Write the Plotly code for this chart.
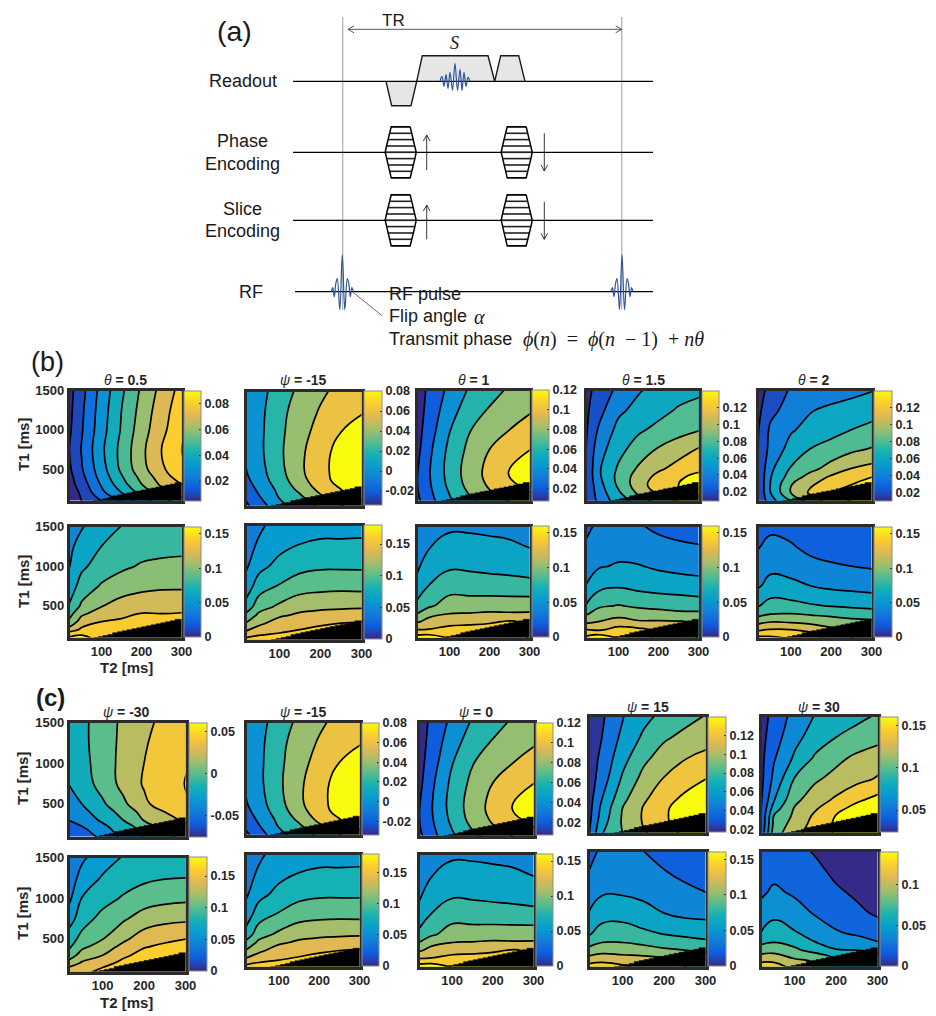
import numpy as np
import plotly.graph_objects as go
from plotly.colors import sample_colorscale

W, H = 936, 1016
PARULA = ["rgb(53,42,135)", "rgb(15,92,221)", "rgb(18,125,216)", "rgb(7,156,207)", "rgb(21,177,180)",
          "rgb(89,189,140)", "rgb(165,190,107)", "rgb(225,185,82)", "rgb(252,206,46)", "rgb(249,251,14)"]
PARULA_SCALE = [[k / 9, c] for k, c in enumerate(PARULA)]
TXT = "#262626"
FONT = "Liberation Sans"

# ---- sampling grid of the maps (edges sit just outside the axis ranges) ----
T2 = [17, 50, 100, 150, 200, 250, 303]
T1_TOP = [90, 200, 300, 400, 500, 750, 1000, 1250, 1510]
T1_BOT = [90, 150, 200, 300, 400, 500, 750, 1000, 1250, 1510]

# region T1 < T2 that is not mapped (black staircase)
BLACK_T2 = [80, 92, 92, 104, 104, 116, 116, 128, 128, 140, 140, 152, 152, 164, 164, 176, 176, 188, 188, 200, 200, 212, 212,
            224, 224, 236, 236, 248, 248, 260, 260, 272, 272, 284, 284, 303, 303, 80]
BLACK_T1 = [100, 100, 112, 112, 125, 125, 138, 138, 160, 160, 172, 172, 185, 185, 198, 198, 210, 210, 222, 222, 235, 235, 248,
            248, 260, 260, 272, 272, 285, 285, 298, 298, 310, 310, 329, 329, 90, 90]

# ---- map values, in units of the contour-level index
# top-row maps: one list per T1 (ascending), one value per T2
U_B1T = [[.3, 1, 2, 3, 4.5, 5.5, 6.5],
         [.4, 1.15, 2.75, 4, 5.35, 6.5, 7.5],
         [.5, 1.45, 3.1, 4.55, 5.95, 7.15, 8],
         [.6, 1.7, 3.4, 4.9, 6.3, 7.5, 8.55],
         [.75, 1.9, 3.6, 5.2, 6.65, 7.8, 8.9],
         [.9, 2.05, 3.8, 5.3, 6.75, 8, 9.05],
         [.75, 1.9, 3.6, 5.1, 6.55, 7.7, 8.9],
         [.65, 1.8, 3.5, 5, 6.35, 7.55, 8.65],
         [.6, 1.65, 3.35, 4.8, 6.15, 7.3, 8.4]]
U_B2T = [[.75, 1.5, 2.65, 3.45, 4.15, 4.9, 5.5],
         [1.1, 1.9, 3.05, 3.8, 4.8, 5.6, 6.3],
         [1.4, 2.2, 3.25, 4.25, 5.3, 6, 6.6],
         [1.7, 2.45, 3.5, 4.6, 5.6, 6.35, 7],
         [1.9, 2.6, 3.65, 4.8, 5.65, 6.45, 7.1],
         [2.05, 2.75, 3.8, 4.8, 5.6, 6.4, 6.9],
         [2.2, 2.75, 3.75, 4.65, 5.35, 6, 6.4],
         [2.25, 2.7, 3.7, 4.45, 5.1, 5.5, 5.95],
         [2.3, 2.6, 3.5, 4.2, 4.8, 5.3, 5.75]]
U_B3T = [[.7, 1.65, 2.85, 3.7, 4.4, 5, 5.6],
         [.85, 1.8, 3.05, 4.1, 4.9, 5.5, 6],
         [.9, 1.9, 3.25, 4.35, 5.15, 5.75, 6.4],
         [.9, 1.95, 3.35, 4.45, 5.3, 6, 6.6],
         [.85, 1.95, 3.4, 4.45, 5.3, 6, 6.6],
         [.65, 1.8, 3.25, 4.25, 5, 5.5, 6],
         [.55, 1.55, 2.95, 3.95, 4.5, 5, 5.5],
         [.5, 1.35, 2.6, 3.5, 4.1, 4.5, 4.9],
         [.5, 1.2, 2.25, 3.1, 3.55, 4.15, 4.7]]
U_B4T = [[.9, 2.25, 3.5, 4.4, 5.3, 6, 6.5],
         [.9, 2.45, 3.85, 5.2, 6.2, 6.9, 7.3],
         [.95, 2.6, 4.2, 5.55, 6.55, 7, 7.5],
         [1, 2.8, 4.3, 5.45, 6.3, 6.85, 7.3],
         [.95, 2.85, 4.15, 5.15, 5.85, 6.35, 6.8],
         [.9, 2.55, 3.7, 4.45, 5.1, 5.6, 6.1],
         [.8, 2.1, 3.3, 3.85, 4.25, 4.6, 4.95],
         [.75, 1.65, 2.8, 3.3, 3.7, 4.1, 4.25],
         [.7, 1.3, 2.25, 2.9, 3.3, 3.6, 3.85]]
U_B5T = [[.9, 2.6, 3.95, 5.4, 6.4, 7, 7.3],
         [.95, 3, 5, 6.2, 6.9, 7.3, 7.6],
         [.95, 3.05, 4.95, 5.9, 6.5, 7, 7.4],
         [.95, 2.95, 4.45, 5.4, 6.15, 6.6, 7],
         [.95, 2.8, 4.1, 4.75, 5.4, 6.05, 6.35],
         [.9, 2.35, 3.35, 4.05, 4.4, 4.8, 5.1],
         [.85, 2.2, 2.9, 3.3, 3.65, 4, 4.3],
         [.7, 1.7, 2.45, 2.95, 3.2, 3.4, 3.6],
         [.5, 1.35, 2.1, 2.3, 2.5, 2.7, 2.95]]
U_C1T = [[.2, .5, 1.2, 2.3, 3, 3.7, 4.3],
         [.6, .85, 1.7, 2.5, 3.3, 4.2, 4.8],
         [1, 1.45, 2.15, 3, 4.05, 4.6, 5.2],
         [1.2, 1.7, 2.5, 3.35, 4.35, 5, 5.7],
         [1.4, 2, 2.85, 3.8, 4.8, 5.5, 5.95],
         [2, 2.5, 3.4, 4.3, 5.1, 5.6, 6.05],
         [2.3, 2.65, 3.5, 4.3, 5, 5.5, 5.95],
         [2.3, 2.75, 3.5, 4.25, 4.9, 5.4, 5.85],
         [2.3, 2.75, 3.5, 4.2, 4.75, 5.25, 5.7]]
U_C4T = [[.8, 2.95, 4, 4.85, 5.6, 6.15, 6.7],
         [.7, 2.65, 4.1, 5.05, 5.8, 6.5, 7.1],
         [.6, 2.4, 4.1, 5.1, 5.85, 6.55, 7.2],
         [.55, 2.25, 4, 5.05, 5.8, 6.55, 7.15],
         [.5, 2, 3.75, 4.85, 5.6, 6.25, 6.8],
         [.4, 1.5, 3.15, 4.3, 5.05, 5.5, 6],
         [.35, 1.25, 2.65, 3.75, 4.45, 4.95, 5.3],
         [.3, 1, 2.25, 3.15, 3.85, 4.25, 4.55],
         [.25, .85, 1.95, 2.7, 3.25, 3.65, 4.05]]
U_C5T = [[1, 4.55, 5.7, 6.5, 7.1, 7.5, 7.8],
         [.9, 4.25, 5.45, 6.35, 7.15, 7.6, 7.9],
         [.85, 4.05, 5.2, 6.2, 7.05, 7.5, 7.85],
         [.8, 3.45, 5.05, 5.85, 6.65, 7.3, 7.7],
         [.75, 2.9, 4.75, 5.5, 6.15, 6.8, 7.3],
         [.65, 2.25, 4.05, 4.85, 5.3, 5.7, 6.1],
         [.65, 1.9, 3.15, 4.15, 4.75, 5.2, 5.6],
         [.6, 1.55, 2.7, 3.45, 4, 4.35, 4.65],
         [.55, 1.3, 2.35, 3.05, 3.35, 3.75, 4.1]]

# bottom-row maps: one list per T2, one value per T1 (ascending)
U_B1B = [[6.15, 5.5, 4.3, 3.1, 2.55, 2, 1.35, .9, .75, .6],
         [6.1, 5.95, 5.2, 4.45, 3.8, 3.15, 2.4, 1.8, 1.35, .9],
         [5.9, 5.95, 5.7, 5, 4.5, 3.95, 3.1, 2.45, 2, 1.5],
         [5.5, 5.5, 5.5, 5.15, 4.75, 4.35, 3.55, 2.8, 2.45, 2],
         [5.5, 5.5, 5.5, 5.3, 5.05, 4.55, 3.75, 3.1, 2.6, 2.2],
         [5.5, 5.5, 5.5, 5.35, 5, 4.6, 3.85, 3.2, 2.7, 2.35],
         [5.5, 5.5, 5.5, 5.4, 5.05, 4.65, 3.85, 3.25, 2.75, 2.4]]
U_B2B = [[6.3, 5.7, 5, 4, 3.2, 2.3, 1.4, .8, .6, .4],
         [6.3, 6, 5.45, 4.8, 4.2, 3.6, 2.5, 1.7, 1.15, .8],
         [6.2, 6.15, 5.9, 5.4, 4.85, 4.2, 3.1, 2.3, 1.75, 1.4],
         [6.15, 6.1, 6.1, 5.65, 5.15, 4.7, 3.55, 2.7, 2.05, 1.6],
         [6.2, 6.2, 6.2, 5.9, 5.3, 4.8, 3.7, 2.85, 2.15, 1.7],
         [6.2, 6.2, 6.2, 6, 5.4, 4.85, 3.75, 2.85, 2.15, 1.7],
         [6.2, 6.2, 6.2, 6.1, 5.45, 4.9, 3.7, 2.85, 2.15, 1.75]]
U_B3B = [[6.5, 5.7, 5, 3.85, 2.95, 2.25, 1.2, .8, .6, .5],
         [6.3, 5.9, 5.05, 4.3, 3.75, 2.85, 2.05, 1.5, .95, .7],
         [6, 5.8, 5.35, 4.6, 4, 3.45, 2.6, 1.85, 1.4, .8],
         [5.5, 5.5, 5.35, 4.75, 4.05, 3.45, 2.55, 1.8, 1.35, .8],
         [5.5, 5.5, 5.5, 4.85, 4.15, 3.5, 2.5, 1.7, 1.25, .75],
         [5.5, 5.5, 5.5, 5.1, 4.1, 3.55, 2.4, 1.65, 1.15, .7],
         [4.9, 4.9, 4.9, 4.8, 4.1, 3.6, 2.3, 1.55, .95, .6]]
U_B4B = [[7.2, 6.7, 6.05, 4.7, 3.85, 3, 2, 1.55, 1.12, .7],
         [7.3, 6.9, 5.8, 5, 4.4, 3.85, 2.7, 1.9, 1.45, 1.2],
         [7, 6.8, 6.35, 5.4, 4.6, 4.05, 2.9, 2.1, 1.6, 1.3],
         [6.4, 6.4, 6.2, 5.1, 4.4, 3.85, 2.7, 2.05, 1.5, 1.1],
         [5.8, 5.8, 5.8, 5.1, 4.3, 3.75, 2.55, 1.85, 1.33, .75],
         [5.6, 5.6, 5.6, 5.05, 4.2, 3.6, 2.5, 1.7, 1.15, .6],
         [4.9, 4.9, 4.9, 4.9, 4.2, 3.5, 2.4, 1.6, 1.05, .5]]
U_B5B = [[7.3, 6.5, 5.75, 4.6, 3.6, 2.9, 1.85, 1.35, .9, .65],
         [7.2, 6.7, 6.05, 4.95, 3.95, 3.4, 2.35, 1.75, 1.3, .75],
         [6.95, 6.6, 6, 4.85, 4, 3.3, 2.25, 1.6, 1.1, .6],
         [6.3, 6.2, 5.65, 4.7, 3.85, 3.1, 2, 1.3, .7, .35],
         [5.7, 5.7, 5.2, 4.5, 3.7, 2.95, 1.8, 1.1, .6, .3],
         [5, 5, 5, 4.3, 3.5, 2.85, 1.7, 1, .55, .25],
         [4.6, 4.6, 4.6, 4.2, 3.4, 2.75, 1.6, .9, .45, .2]]
U_C1B = [[6, 5, 4.4, 3.35, 2.8, 2.5, 1.45, .7, .4, .2],
         [5.75, 5.4, 5.15, 4.45, 3.8, 3.3, 2.58, 2.03, 1.35, .8],
         [6.3, 6, 5.65, 5, 4.5, 3.97, 3.3, 2.65, 2.1, 1.5],
         [6.5, 6.5, 6.3, 5.8, 5.3, 4.8, 3.85, 3.1, 2.55, 2.05],
         [6.5, 6.5, 6.5, 6.35, 5.95, 5.5, 4.45, 3.5, 2.8, 2.3],
         [6.6, 6.6, 6.6, 6.6, 6.2, 5.8, 4.7, 3.7, 2.95, 2.45],
         [6.6, 6.6, 6.6, 6.6, 6.4, 6, 4.8, 3.8, 3, 2.5]]
U_C4B = [[6.4, 5.85, 5.25, 4.3, 3.45, 2.85, 2, 1.5, 1, .6],
         [6.4, 6, 5.5, 4.6, 3.95, 3.45, 2.55, 1.9, 1.5, 1.2],
         [6.2, 5.8, 5.3, 4.6, 3.95, 3.5, 2.6, 1.9, 1.45, 1.1],
         [5.7, 5.7, 5.25, 4.4, 3.75, 3.2, 2.35, 1.75, 1.4, 1],
         [5.3, 5.3, 5.1, 4.15, 3.5, 2.95, 2, 1.55, 1.05, .65],
         [5, 5, 5, 4, 3.3, 2.8, 1.75, 1.25, .75, .45],
         [4.5, 4.5, 4.5, 3.7, 3.15, 2.65, 1.7, 1, .65, .3]]
U_C5B = [[6.5, 6, 5.5, 4.5, 3.7, 3, 2.4, 1.8, 1.45, 1.2],
         [6.5, 6, 5.5, 4.65, 3.95, 3.5, 2.75, 2.2, 1.7, 1.35],
         [5.7, 5.5, 4.95, 4.2, 3.65, 3.1, 2.45, 1.85, 1.55, 1.25],
         [4.9, 4.9, 4.75, 3.6, 3, 2.65, 1.9, 1.55, 1.25, .9],
         [3.9, 3.9, 3.9, 3.05, 2.6, 2.1, 1.6, 1.15, .8, .5],
         [3.6, 3.6, 3.6, 3, 2.35, 1.9, 1.2, .85, .5, .3],
         [3.3, 3.3, 3.3, 2.8, 2, 1.6, .85, .5, .3, .1]]

# colour-bar ticks
TICKS_B1T = [.02, .04, .06, .08]
TICKS_PSI = [-.02, 0, .02, .04, .06, .08]
TICKS_THETA = [.02, .04, .06, .08, .1, .12]
TICKS_BOT = [0, .05, .1, .15]
TICKS_C1T = [-.05, 0, .05]
TICKS_C5T = [.05, .1, .15]
TICKS_C5B = [0, .05, .1]

# ---- panels: title, frame (x0,x1,y0,y1 px), colour bar (x0,x1,y0,y1 px), values, first level, level step,
#              number of levels, colour range, ticks, axis flags, title centre
PANELS = [
 ("<i>θ</i><b> = 0.5</b>", (69.5,181.5,390.5,500.5), (184,201,391,501), U_B1T, .01, .01, 9, .0045, .09, TICKS_B1T, 1, 0, (125,380)),
 ("<i>ψ</i><b> = -15</b>", (246.5,361.5,391.5,505.5), (364,382,391,505), U_B2T, -.02, .02, 6, -.034, .08, TICKS_PSI, 0, 0, (303,380)),
 ("<i>θ</i><b> = 1</b>", (417.5,529.5,390.5,500.5), (532,549,390,501), U_B3T, .02, .02, 6, .0075, .12, TICKS_THETA, 0, 0, (474,380)),
 ("<i>θ</i><b> = 1.5</b>", (586.5,698.5,390.5,500.5), (702,719,391,501), U_B4T, .02, .02, 7, .009, .14, TICKS_THETA, 0, 0, (643,380)),
 ("<i>θ</i><b> = 2</b>", (758.5,871.5,390.5,500.5), (874,892,391,501), U_B5T, .02, .02, 7, .01, .14, TICKS_THETA, 0, 0, (814,380)),
 ("", (69.5,181.5,526.5,637.5), (184,201,527,637), U_B1B, .06, .02, 6, 0, .16, TICKS_BOT, 1, 1, None),
 ("", (246.5,361.5,525.5,639.5), (364,382,525,639), U_B2B, .06, .02, 6, 0, .18, TICKS_BOT, 0, 1, None),
 ("", (417.5,529.5,526.5,637.5), (532,549,526,637), U_B3B, .06, .02, 6, 0, .16, TICKS_BOT, 0, 1, None),
 ("", (586.5,698.5,526.5,637.5), (702,719,526,637), U_B4B, .04, .02, 7, 0, .16, TICKS_BOT, 0, 1, None),
 ("", (758.5,871.5,526.5,637.5), (874,892,527,637), U_B5B, .04, .02, 7, 0, .16, TICKS_BOT, 0, 1, None),
 ("<i>ψ</i><b> = -30</b>", (69.5,185.5,722.5,836.5), (189,207,723,837), U_C1T, -.04, .02, 6, -.076, .06, TICKS_C1T, 1, 0, (127,712)),
 ("<i>ψ</i><b> = -15</b>", (246.5,359.5,722.5,834.5), (362,379,723,835), U_B2T, -.02, .02, 6, -.034, .08, TICKS_PSI, 0, 0, (303,712)),
 ("<i>ψ</i><b> = 0</b>", (419.5,533.5,722.5,835.5), (536,553,723,835), U_B3T, .02, .02, 6, .0075, .12, TICKS_THETA, 0, 0, (476,712)),
 ("<i>ψ</i><b> = 15</b>", (589.5,705.5,716.5,832.5), (708,726,717,832), U_C4T, .04, .02, 6, .017, .14, TICKS_THETA, 0, 0, (648,707)),
 ("<i>ψ</i><b> = 30</b>", (761.5,877.5,716.5,832.5), (880,898,717,832), U_C5T, .04, .02, 7, .024, .16, TICKS_C5T, 0, 0, (819,707)),
 ("", (69.5,185.5,857.5,971.5), (189,207,857,971), U_C1B, .06, .02, 6, 0, .18, TICKS_BOT, 1, 1, None),
 ("", (246.5,359.5,854.5,966.5), (362,379,854,966), U_B2B, .06, .02, 6, 0, .18, TICKS_BOT, 0, 1, None),
 ("", (419.5,533.5,854.5,966.5), (536,553,854,966), U_B3B, .06, .02, 6, 0, .16, TICKS_BOT, 0, 1, None),
 ("", (589.5,705.5,851.5,966.5), (708,726,852,966), U_C4B, .04, .02, 6, 0, .16, TICKS_BOT, 0, 1, None),
 ("", (761.5,877.5,851.5,966.5), (880,898,852,966), U_C5B, .02, .02, 6, 0, .14, TICKS_C5B, 0, 1, None),
]

# ---- schematic (a), page pixel coordinates ------------------------------------
GUIDE_X = [342.7, 621.7]
GUIDE_Y = [17, 310]
BASE_Y = [81.3, 152.3, 220.3, 291.7]
BASE_X = [[293, 653], [293, 653], [293, 653], [295, 653]]
READ_SHAPES_X = [[386, 391.7, 411, 416.7], [416.7, 422.3, 488, 494.7], [494.7, 500.7, 518.7, 525]]
READ_SHAPES_Y = [[81.3, 105.7, 105.7, 81.3], [81.3, 55.7, 55.7, 81.3], [81.3, 55.7, 55.7, 81.3]]
HEX_X = [400.7, 516.7]
HEX_Y = [152.3, 220.3]
STRIPE_DY = [-25.5, -19, -12.7, -6.3, 0, 6.3, 12.7, 19, 25.5]
STRIPE_HW = [9.5, 11.2, 12.8, 14.2, 15.5, 14.2, 12.8, 11.2, 9.5]
ARROW_X = [426.7, 544.3, 426.7, 544.3]
ARROW_Y0 = [170, 133.3, 239.3, 201.7]
ARROW_Y1 = [135, 171, 205, 239.3]
RF_CENTRE = [342.3, 622]
RF_DX = [-11, -9.5, -8, -6.5, -5, -2.5, 0, 2.5, 5, 6.5, 8, 9.5, 11]
RF_DY = [0, 4, -5, 8, 13, -18, 37, -18, 13, 8, -5, 4, 0]
S_CENTRE = 455
S_DX = [-15, -13, -11, -9, -7, -5, -2.5, 0, 2.5, 5, 7, 9, 11, 13, 15]
S_DY = [0, 5, -5, 7, -7, 9, -9, 18, -9, 12, -9, 9, -5, 4, 0]
TR_X = [348, 621.7]
TR_Y = 29.3
CALLOUT_X = [352.7, 382]
CALLOUT_Y = [292, 315.7]

fig = go.Figure()
layout = {}
layout["xaxis21"] = dict(domain=[0, 1], range=[0, W], visible=False, fixedrange=True)
layout["yaxis21"] = dict(domain=[0, 1], range=[H, 0], visible=False, fixedrange=True)


def draw(xs, ys, color="black", width=1.0, fill=None, shape="linear"):
    fig.add_trace(go.Scatter(x=xs, y=ys, mode="lines", xaxis="x21", yaxis="y21", showlegend=False,
                             hoverinfo="skip", line=dict(color=color, width=width, shape=shape),
                             fill="toself" if fill else None, fillcolor=fill))


for gx in GUIDE_X:
    draw([gx, gx], GUIDE_Y, "#b5b5b5", 1.3)
for xs, ys in zip(READ_SHAPES_X, READ_SHAPES_Y):
    draw(xs, ys, "#1a1a1a", 1.4, fill="#e7e6e6")
for xs, y in zip(BASE_X, BASE_Y):
    draw(xs, [y, y], "black", 1.2)
for hx in HEX_X:
    for hy in HEX_Y:
        xs, ys = [], []
        for d, w in zip(STRIPE_DY, STRIPE_HW):
            xs += [hx - w, hx + w, None]
            ys += [hy + d, hy + d, None]
        draw(xs, ys, "#222222", 1.6)
        ox = [hx + s * w for s, w in zip([1] * 9 + [-1] * 9, STRIPE_HW + STRIPE_HW[::-1])] + [hx + STRIPE_HW[0]]
        oy = [hy + d for d in STRIPE_DY + STRIPE_DY[::-1]] + [hy + STRIPE_DY[0]]
        draw(ox, oy, "black", 1.5)
for ax, y0, y1 in zip(ARROW_X, ARROW_Y0, ARROW_Y1):
    sgn = 1 if y1 > y0 else -1
    draw([ax, ax, None, ax - 3.3, ax, ax + 3.3], [y0, y1, None, y1 - sgn * 6, y1, y1 - sgn * 6], "#222222", 0.9)
draw([TR_X[0] + 6, TR_X[0], TR_X[0] + 6, None, TR_X[0], TR_X[1], None, TR_X[1] - 6, TR_X[1], TR_X[1] - 6],
     [TR_Y - 3.5, TR_Y, TR_Y + 3.5, None, TR_Y, TR_Y, None, TR_Y - 3.5, TR_Y, TR_Y + 3.5], "#444444", 0.9)
for rc in RF_CENTRE:
    draw([rc + d for d in RF_DX], [BASE_Y[3] - d for d in RF_DY], "#2f5597", 1.2, shape="spline")
draw([S_CENTRE + d for d in S_DX], [BASE_Y[0] - d for d in S_DY], "#2f5597", 1.2, shape="spline")
draw(CALLOUT_X, CALLOUT_Y, "#444444", 0.8)

# ---- maps -----------------------------------------------------------------
ann = []


def px(x):
    return x / W


def py(y):
    return 1 - y / H


for i, (title, fr, cb, u, start, step, nlev, cmin, cmax, ticks, showy, showx, tpos) in enumerate(PANELS, 1):
    arr = np.array(u, dtype=float)
    is_bot = arr.shape[0] == len(T2)
    if is_bot:
        arr = arr.T
    z = start + (arr - 1) * step
    # each band takes the colour of its lower level (MATLAB contourf convention)
    lower = [start + (k - 1) * step for k in range(nlev + 1)]
    fracs = [float(np.clip((lv - cmin) / (cmax - cmin), 0, 1)) for lv in lower]
    band_cols = sample_colorscale(PARULA_SCALE, fracs)
    band_scale = [[k / nlev, c] for k, c in enumerate(band_cols)]
    xa, ya = f"x{i}", f"y{i}"
    fig.add_trace(go.Contour(
        x=T2, y=T1_BOT if is_bot else T1_TOP, z=z.tolist(), xaxis=xa, yaxis=ya, autocontour=False,
        contours=dict(start=start, end=start + step * (nlev - 1), size=step, coloring="fill", showlines=True),
        line=dict(color="black", width=1.7, smoothing=1.3), colorscale=band_scale, showscale=False, hoverinfo="skip"))
    fig.add_trace(go.Scatter(x=BLACK_T2, y=BLACK_T1, xaxis=xa, yaxis=ya, mode="lines", fill="toself", fillcolor="black",
                             line=dict(color="black", width=0.5), hoverinfo="skip", showlegend=False))
    fig.add_trace(go.Scatter(
        x=[None, None], y=[None, None], xaxis=xa, yaxis=ya, mode="markers", showlegend=False, hoverinfo="skip",
        marker=dict(color=[cmin, cmax], cmin=cmin, cmax=cmax, showscale=True, colorscale=PARULA_SCALE,
                    colorbar=dict(x=px(cb[0]), xanchor="left", xpad=0, y=py(cb[2]), yanchor="top", ypad=0,
                                  len=cb[3] - cb[2], lenmode="pixels", thickness=cb[1] - cb[0], thicknessmode="pixels",
                                  outlinewidth=1, outlinecolor="#8c8c8c", borderwidth=0,
                                  tickvals=ticks, ticktext=[f"{t:g}" for t in ticks], ticks="inside", ticklen=2,
                                  tickcolor=TXT, tickwidth=1,
                                  tickfont=dict(family=FONT, size=12.5, color=TXT, weight="bold")))))
    axfont = dict(family=FONT, size=13, color=TXT, weight="bold")
    layout[f"xaxis{i}"] = dict(domain=[px(fr[0]), px(fr[1])], range=[20, 300], anchor=ya, showgrid=False, zeroline=False,
                               showline=True, mirror=True, linewidth=2.5, linecolor="#2b2b2b", ticks="",
                               tickvals=[100, 200, 300] if showx else [], tickfont=axfont, fixedrange=True)
    layout[f"yaxis{i}"] = dict(domain=[py(fr[3]), py(fr[2])], range=[100, 1500], anchor=xa, showgrid=False, zeroline=False,
                               showline=True, mirror=True, linewidth=2.5, linecolor="#2b2b2b", ticks="",
                               tickvals=[500, 1000, 1500] if showy else [], tickfont=axfont, fixedrange=True)
    if title:
        ann.append(dict(x=px(tpos[0]), y=py(tpos[1]), xref="paper", yref="paper", text=title, showarrow=False,
                        font=dict(family=FONT, size=14, color=TXT), xanchor="center", yanchor="middle"))

# ---- texts ----------------------------------------------------------------
LABELS = [("(a)", 234, 31, 28.5, "#1a1a1a", "center", False), ("TR", 393, 21, 17, "#1a1a1a", "center", False),
          ("Readout", 243, 81, 18, "#1a1a1a", "center", False), ("Phase", 242, 141, 18, "#1a1a1a", "center", False),
          ("Encoding", 242, 164, 18, "#1a1a1a", "center", False), ("Slice", 242, 209, 18, "#1a1a1a", "center", False),
          ("Encoding", 242, 231, 18, "#1a1a1a", "center", False), ("RF", 251, 292, 18, "#1a1a1a", "center", False),
          ("RF pulse", 387, 294, 18, "#1a1a1a", "left", False), ("Flip angle", 387, 316, 18, "#1a1a1a", "left", False),
          ("Transmit phase", 387, 339, 18, "#1a1a1a", "left", False), ("(b)", 47, 362, 27, "#1a1a1a", "center", False),
          ("(c)", 50, 697, 24, "#1a1a1a", "center", True)]
for txt, x, y, size, col, anchor, bold in LABELS:
    ann.append(dict(x=px(x), y=py(y), xref="paper", yref="paper", text=f"<b>{txt}</b>" if bold else txt, showarrow=False,
                    xanchor=anchor, yanchor="middle", font=dict(family=FONT, size=size, color=col)))
MATH = [("<i>S</i>", 454, 43, 18, "center"), ("<i>α</i>", 480, 317, 20, "center"),
        ("<i>ϕ</i>(<i>n</i>)\u00a0\u00a0=\u00a0\u00a0<i>ϕ</i>(<i>n</i>\u00a0\u00a0−\u00a01)\u00a0\u00a0+\u00a0<i>nθ</i>", 521, 339, 20, "left")]
for txt, x, y, size, anchor in MATH:
    ann.append(dict(x=px(x), y=py(y), xref="paper", yref="paper", text=txt, showarrow=False, xanchor=anchor, yanchor="middle",
                    font=dict(family="Liberation Serif", size=size, color="#1a1a1a")))
AXIS_TITLES = [("T1 [ms]", 23, 445, -90), ("T1 [ms]", 23, 582, -90), ("T1 [ms]", 22, 779, -90), ("T1 [ms]", 22, 914, -90),
               ("T2 [ms]", 126, 667, 0), ("T2 [ms]", 127, 1002, 0)]
for txt, x, y, rot in AXIS_TITLES:
    ann.append(dict(x=px(x), y=py(y), xref="paper", yref="paper", text=f"<b>{txt}</b>", showarrow=False, textangle=rot,
                    xanchor="center", yanchor="middle", font=dict(family=FONT, size=15, color=TXT)))

fig.update_layout(width=W, height=H, margin=dict(l=0, r=0, t=0, b=0, autoexpand=False), paper_bgcolor="white",
                  plot_bgcolor="rgba(0,0,0,0)", showlegend=False, annotations=ann, **layout)
fig.write_html("out.html", config={"displayModeBar": False},
               post_script="document.body.style.margin='0';document.body.style.overflow='hidden';")
